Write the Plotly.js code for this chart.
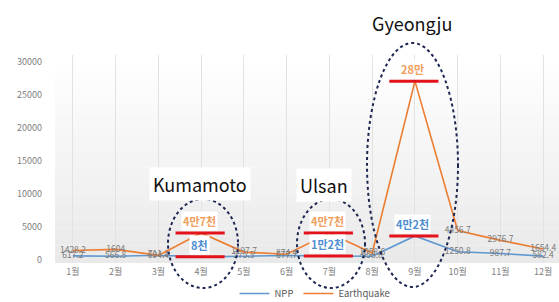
<!DOCTYPE html>
<html>
<head>
<meta charset="utf-8">
<script src="https://cdn.plot.ly/plotly-3.0.1.min.js"></script>
<style>
  html, body { margin: 0; padding: 0; background: #fff; }
  #chart { width: 559px; height: 302px; }
</style>
</head>
<body>
<div id="chart"></div>
<script>
// ---- data ----
const months = ['1월','2월','3월','4월','5월','6월','7월','8월','9월','10월','11월','12월'];
const npp = [617.2, 566.8, 711.1, 480, 575.3, 677.7, 600, 558.8, 3640, 1250.8, 987.7, 582.4];
const quake = [1428.2, 1604, 694.4, 4100, 1197.7, 874.4, 4080, 1058.6, 27100, 4456.7, 2976.7, 1654.4];
const highlightIdx = [3, 6, 8];
const nppNotes = ['8천', '1만2천', '4만2천'];
const quakeNotes = ['4만7천', '4만7천', '28만'];
const eventNames = ['Kumamoto', 'Ulsan', 'Gyeongju'];
const yTicks = [0, 5000, 10000, 15000, 20000, 25000, 30000];

// ---- geometry helpers (plot area in pixels) ----
const L = 55, R = 559, T = 55, B = 263;
const X = px => (px - L) / (R - L);
const Y = py => (B - py) / (B - T);

const FONT = '"Noto Sans CJK KR", "Noto Sans", sans-serif';
const BLUE = '#5f97cf';
const ORANGE = '#ed7d31';

const labelOf = (arr) => arr.map((v, i) => highlightIdx.includes(i) ? '' : String(v));

const traces = [
  {
    x: months, y: npp, name: 'NPP', type: 'scatter', mode: 'lines+text',
    line: { color: BLUE, width: 1.6 },
    text: labelOf(npp), textposition: 'middle center',
    textfont: { family: FONT, size: 8.5, color: '#7a7a7a' },
    hoverinfo: 'skip', cliponaxis: false
  },
  {
    x: months, y: quake, name: 'Earthquake', type: 'scatter', mode: 'lines+text',
    line: { color: ORANGE, width: 1.6 },
    text: labelOf(quake), textposition: 'middle center',
    textfont: { family: FONT, size: 8.5, color: '#7a7a7a' },
    hoverinfo: 'skip', cliponaxis: false
  }
];

const shapes = [];
const annotations = [];

// soft vertical gradient behind the plot area (bands)
const nBands = 24;
for (let b = 0; b < nBands; b++) {
  const t = (b + 0.5) / nBands;            // 0 top -> 1 bottom
  const g = Math.round(255 - 22 * t);
  shapes.push({
    type: 'rect', xref: 'paper', yref: 'paper', layer: 'below',
    x0: 0, x1: 1, y0: 1 - (b + 1) / nBands, y1: 1 - b / nBands,
    fillcolor: `rgb(${g},${g},${g})`, line: { width: 0 }
  });
}

// dotted ellipses around events (pixel boxes)
const ellipses = [
  [168, 199, 238, 288],
  [297, 199, 365, 288],
  [367, 43, 458, 287]
];
ellipses.forEach(e => shapes.push({
  type: 'circle', xref: 'paper', yref: 'paper',
  x0: X(e[0]), x1: X(e[2]), y0: Y(e[3]), y1: Y(e[1]),
  line: { color: '#1d2650', width: 2, dash: 'dot' }, layer: 'above'
}));

// red markers + notes at highlighted months
highlightIdx.forEach((i, k) => {
  [quake[i], npp[i]].forEach(v => shapes.push({
    type: 'line', xref: 'x', yref: 'y',
    x0: i - 0.6, x1: i + 0.55, y0: v, y1: v,
    line: { color: '#e3131b', width: 3 }, layer: 'above'
  }));
  annotations.push({
    x: i, y: quake[i], xref: 'x', yref: 'y', text: '<b>' + quakeNotes[k] + '</b>',
    showarrow: false, yanchor: 'bottom', yshift: 2, xshift: -2,
    font: { family: FONT, size: 11, color: '#f0a060' }, bgcolor: '#ffffff', borderpad: 1
  });
  annotations.push({
    x: i, y: npp[i], xref: 'x', yref: 'y', text: '<b>' + nppNotes[k] + '</b>',
    showarrow: false, yanchor: 'bottom', yshift: 2, xshift: -2,
    font: { family: FONT, size: 11, color: '#4f8fd0' }, bgcolor: '#ffffff', borderpad: 1
  });
});

// event names
const namePos = [[200, 184], [324, 185], [412, 23]];
eventNames.forEach((n, k) => annotations.push({
  xref: 'paper', yref: 'paper', x: X(namePos[k][0]), y: Y(namePos[k][1]),
  text: n, showarrow: false, xanchor: 'center', yanchor: 'middle',
  font: { family: FONT, size: 18, color: '#111111' }, bgcolor: '#ffffff', borderpad: 3
}));

const layout = {
  width: 559, height: 302,
  margin: { l: L, r: 559 - R, t: T, b: 302 - B, autoexpand: false },
  paper_bgcolor: '#ffffff', plot_bgcolor: 'rgba(0,0,0,0)',
  font: { family: FONT, size: 9, color: '#7f7f7f' },
  showlegend: true,
  legend: {
    orientation: 'h', x: X(315), xanchor: 'center', y: Y(279), yanchor: 'top',
    font: { family: FONT, size: 9.5, color: '#595959' }, bgcolor: 'rgba(0,0,0,0)',
    itemwidth: 30
  },
  xaxis: {
    type: 'category', range: [-0.42, 11.37], fixedrange: true,
    showgrid: true, gridcolor: '#e2e2e2', gridwidth: 1,
    showline: false, zeroline: false, ticks: '',
    tickfont: { family: FONT, size: 9, color: '#808080' }, ticklabelstandoff: 2
  },
  yaxis: {
    range: [-455, 31060], fixedrange: true,
    tickvals: yTicks, ticktext: yTicks.map(String),
    showgrid: false, zeroline: false, showline: false, ticks: '',
    tickfont: { family: FONT, size: 9, color: '#808080' }, ticklabelstandoff: 12
  },
  shapes: shapes,
  annotations: annotations
};

Plotly.newPlot('chart', traces, layout, { displayModeBar: false, staticPlot: true });
</script>
</body>
</html>
